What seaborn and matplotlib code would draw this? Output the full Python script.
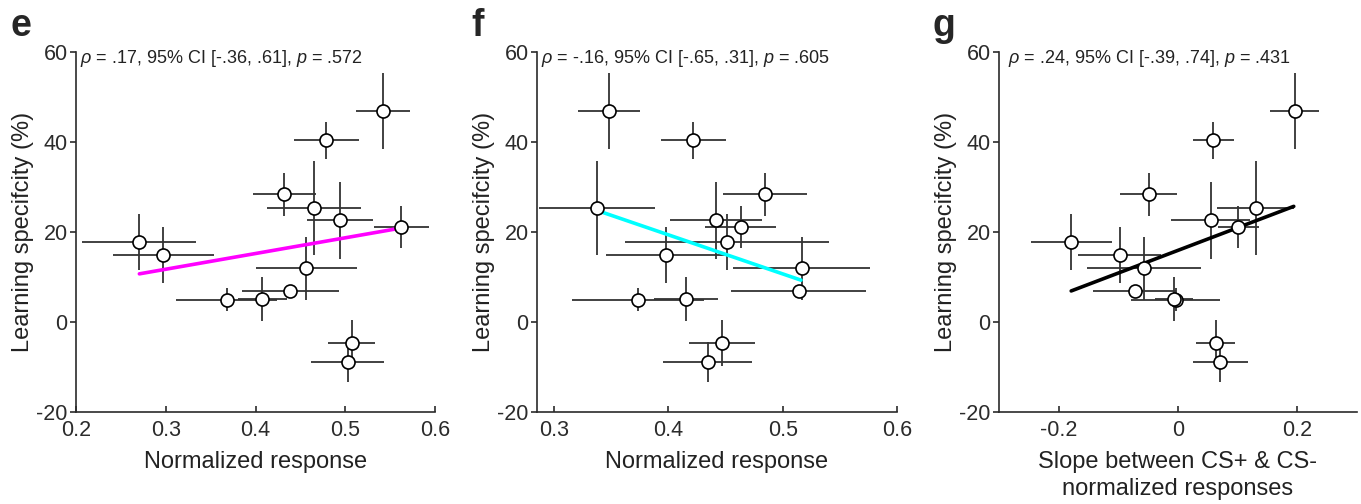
import matplotlib
matplotlib.use("Agg")
import matplotlib.pyplot as plt
import pandas as pd
import seaborn as sns

# Learning specificity (%) - shared by all three panels
spec = [46.9, 40.4, 28.4, 25.3, 22.6, 21.1, 17.7, 14.9, 11.9, 6.8, 5.0, 5.2, -4.6, -8.9]
spec_err = [8.4, 4.1, 4.8, 10.5, 8.6, 4.7, 6.2, 6.3, 6.9, 1.0, 2.6, 4.9, 5.1, 4.4]

# panel e: normalized response
e_x = [0.542, 0.479, 0.432, 0.465, 0.494, 0.5625, 0.2706, 0.2973, 0.4566, 0.4388, 0.3679, 0.4076, 0.5072, 0.5027]
e_xerr = [0.030, 0.036, 0.035, 0.052, 0.037, 0.031, 0.0635, 0.056, 0.056, 0.054, 0.056, 0.027, 0.026, 0.041]
e_fit_x = [0.2706, 0.557]
e_fit_y = [10.7, 20.7]

# panel f: normalized response
f_x = [0.3481, 0.4217, 0.4844, 0.3374, 0.4415, 0.4631, 0.4512, 0.3978, 0.5165, 0.5139, 0.3735, 0.4156, 0.4468, 0.4342]
f_xerr = [0.027, 0.0286, 0.037, 0.051, 0.040, 0.031, 0.089, 0.052, 0.060, 0.059, 0.058, 0.028, 0.029, 0.039]
f_fit_x = [0.3374, 0.516]
f_fit_y = [24.8, 9.3]

# panel g: slope between CS+ & CS-
g_x = [0.1956, 0.0594, -0.0494, 0.130, 0.055, 0.1011, -0.1789, -0.0978, -0.0572, -0.0728, -0.0039, -0.0072, 0.0633, 0.0706]
g_xerr = [0.041, 0.035, 0.047, 0.064, 0.066, 0.034, 0.068, 0.069, 0.095, 0.069, 0.075, 0.032, 0.033, 0.046]
g_fit_x = [-0.179, 0.194]
g_fit_y = [6.9, 25.7]

stats_text = [
    r"$\rho$ = .17, 95% CI [-.36, .61], $p$ = .572",
    r"$\rho$ = -.16, 95% CI [-.65, .31], $p$ = .605",
    r"$\rho$ = .24, 95% CI [-.39, .74], $p$ = .431",
]

sns.set_style("ticks")
plt.rcParams["font.family"] = ["Liberation Sans", "DejaVu Sans"]
plt.rcParams["mathtext.fontset"] = "custom"
plt.rcParams["mathtext.it"] = "Liberation Sans:italic"
plt.rcParams["mathtext.rm"] = "Liberation Sans"
plt.rcParams["axes.unicode_minus"] = False

dark = "#2b2b2b"
fig = plt.figure(figsize=(13.61, 5.04), dpi=100)
lefts = [76 / 1361, 537 / 1361, 999 / 1361]
widths = [359 / 1361, 360 / 1361, 358 / 1361]

panels = [
    ("e", e_x, e_xerr, e_fit_x, e_fit_y, "#ff00ff", (0.2, 0.6), [0.2, 0.3, 0.4, 0.5, 0.6],
     "Normalized response", 0.012),
    ("f", f_x, f_xerr, f_fit_x, f_fit_y, "#00ffff", (0.285, 0.6), [0.3, 0.4, 0.5, 0.6],
     "Normalized response", 0.012),
    ("g", g_x, g_xerr, g_fit_x, g_fit_y, "black", (-0.3, 0.3), [-0.2, 0, 0.2],
     "Slope between CS+ & CS-\nnormalized responses", 0.025),
]

for i, (letter, xs, xerr, fx, fy, col, xlim, xticks, xlabel, tx) in enumerate(panels):
    ax = fig.add_axes([lefts[i], 92 / 504, widths[i], 360 / 504])
    df = pd.DataFrame({"x": xs, "y": spec})
    ax.errorbar(xs, spec, xerr=xerr, yerr=spec_err, fmt="none",
                ecolor="#333333", elinewidth=1.3, capsize=0, zorder=1)
    sns.lineplot(x=fx, y=fy, ax=ax, color=col, linewidth=2.6, zorder=2)
    sns.scatterplot(data=df, x="x", y="y", ax=ax, s=88, facecolor="white",
                    edgecolor="black", linewidth=1.2, zorder=3)
    ax.set_xlim(*xlim)
    ax.set_ylim(-20, 60)
    ax.set_xticks(xticks)
    ax.set_xticklabels(["0" if t == 0 else f"{t:.1f}" for t in xticks])
    ax.set_yticks([-20, 0, 20, 40, 60])
    ax.set_xlabel(xlabel, fontsize=17, color="#222222", labelpad=7, linespacing=1.3)
    ax.set_ylabel("Learning specifcity (%)", fontsize=17, color="#222222", labelpad=2)
    ax.tick_params(labelsize=15.5, colors=dark, length=4, width=1.2)
    ax.tick_params(axis="x", direction="in", pad=6)
    ax.tick_params(axis="y", direction="out", pad=2)
    for s in ["left", "bottom"]:
        ax.spines[s].set_color(dark)
        ax.spines[s].set_linewidth(1.2)
    sns.despine(ax=ax)
    ax.text(tx, 1.01, stats_text[i], transform=ax.transAxes, fontsize=13,
            color="#222222", va="top", ha="left")
    fig.text(lefts[i] - 66 / 1361, 0.985, letter, fontsize=27, fontweight="bold",
             va="top", ha="left")

fig.savefig("out.png", dpi=100)
